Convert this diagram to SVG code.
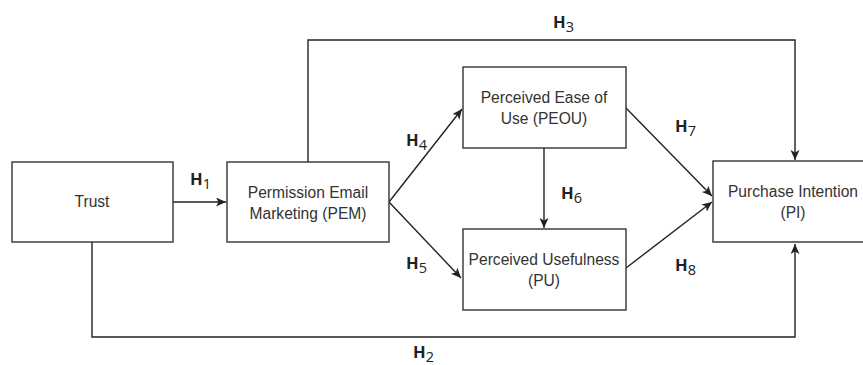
<svg xmlns="http://www.w3.org/2000/svg" width="863" height="365" viewBox="0 0 863 365">
<defs>
<style>
.box{fill:#fff;stroke:#333;stroke-width:1.4}
.lbl{font-family:"Liberation Sans",Arial,sans-serif;font-size:15.6px;fill:#333;text-anchor:middle}
.conn{fill:none;stroke:#222;stroke-width:1.4}
.h{font-family:"Open Sans","Liberation Sans",sans-serif;font-size:16.5px;font-weight:bold;fill:#222}
.sub{font-size:14.5px;font-weight:normal}
</style>
<marker id="arr" markerUnits="userSpaceOnUse" markerWidth="12" markerHeight="10" refX="10" refY="4.5" orient="auto">
<path d="M0,0 L10,4.5 L0,9 L2.5,4.5 z" fill="#222"/>
</marker>
</defs>
<rect width="863" height="365" fill="#fff"/>
<g id="connectors">
<path class="conn" d="M173,202 L226,202" marker-end="url(#arr)"/>
<path class="conn" d="M308,162 V40 H795 V160" marker-end="url(#arr)"/>
<path class="conn" d="M92,242 V337 H795 V244" marker-end="url(#arr)"/>
<path class="conn" d="M389,202 L462,109" marker-end="url(#arr)"/>
<path class="conn" d="M389,202 L461,278" marker-end="url(#arr)"/>
<path class="conn" d="M544,148 V228" marker-end="url(#arr)"/>
<path class="conn" d="M626,108 L712,196" marker-end="url(#arr)"/>
<path class="conn" d="M626,268 L712,202" marker-end="url(#arr)"/>
</g>
<g id="trust">
<rect class="box" x="12" y="162" width="161" height="80"/>
<text class="lbl" x="92" y="207">Trust</text>
</g>
<g id="pem">
<rect class="box" x="227" y="162" width="162" height="80"/>
<text class="lbl" x="308" y="198">Permission Email</text>
<text class="lbl" x="308" y="219">Marketing (PEM)</text>
</g>
<g id="peou">
<rect class="box" x="463" y="67" width="163" height="81"/>
<text class="lbl" x="544" y="103">Perceived Ease of</text>
<text class="lbl" x="544" y="124">Use (PEOU)</text>
</g>
<g id="pu">
<rect class="box" x="463" y="229" width="163" height="81"/>
<text class="lbl" x="544" y="265">Perceived Usefulness</text>
<text class="lbl" x="544" y="286">(PU)</text>
</g>
<g id="pi">
<rect class="box" x="713" y="161" width="162" height="81"/>
<text class="lbl" x="793" y="197">Purchase Intention</text>
<text class="lbl" x="793" y="218">(PI)</text>
</g>
<g id="labels">
<text class="h" x="190" y="185">H<tspan class="sub" dy="4">1</tspan></text>
<text class="h" x="553" y="28">H<tspan class="sub" dy="4">3</tspan></text>
<text class="h" x="413" y="358">H<tspan class="sub" dy="4">2</tspan></text>
<text class="h" x="406" y="146">H<tspan class="sub" dy="4">4</tspan></text>
<text class="h" x="406" y="269">H<tspan class="sub" dy="4">5</tspan></text>
<text class="h" x="561" y="199">H<tspan class="sub" dy="4">6</tspan></text>
<text class="h" x="675" y="132">H<tspan class="sub" dy="4">7</tspan></text>
<text class="h" x="675" y="271">H<tspan class="sub" dy="4">8</tspan></text>
</g>
</svg>
